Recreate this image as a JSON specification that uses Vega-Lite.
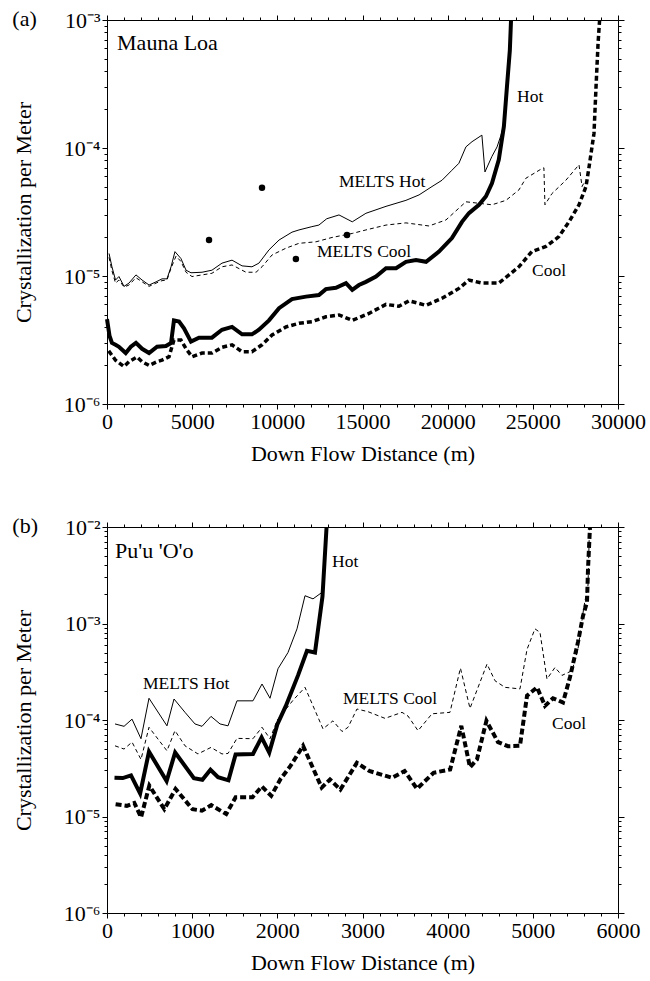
{
  "$schema": "https://vega.github.io/schema/vega-lite/v6.json",
  "background": "white",
  "padding": {"left": 12, "top": 8, "right": 4, "bottom": 4},
  "spacing": 51,
  "config": {
    "view": {"stroke": null},
    "font": "Liberation Serif",
    "axis": {
      "labelFont": "Liberation Serif", "labelFontSize": 22, "labelColor": "black",
      "titleFont": "Liberation Serif", "titleFontSize": 22, "titleFontWeight": "normal", "titleColor": "black",
      "domainColor": "black", "domainWidth": 1, "tickColor": "black", "tickWidth": 1,
      "grid": false, "labelFlush": false, "labelOverlap": false, "labelPadding": 2
    },
    "line": {"color": "black", "clip": true, "strokeCap": "butt"},
    "title": {"font": "Liberation Serif", "fontSize": 22, "fontWeight": "normal", "color": "black"}
  },
  "datasets": {
    "a_lines": [
      {"s":"Hot","d":0,"v":4.6e-6},{"s":"Hot","d":150,"v":3.4e-6},{"s":"Hot","d":290,"v":3.0e-6},{"s":"Hot","d":500,"v":2.9e-6},{"s":"Hot","d":700,"v":2.8e-6},{"s":"Hot","d":1100,"v":2.5e-6},{"s":"Hot","d":1400,"v":2.8e-6},{"s":"Hot","d":1700,"v":3.0e-6},{"s":"Hot","d":2060,"v":2.7e-6},{"s":"Hot","d":2470,"v":2.5e-6},{"s":"Hot","d":2940,"v":2.8e-6},{"s":"Hot","d":3460,"v":2.84e-6},{"s":"Hot","d":3760,"v":3.0e-6},{"s":"Hot","d":3930,"v":4.5e-6},{"s":"Hot","d":4230,"v":4.4e-6},{"s":"Hot","d":4520,"v":3.9e-6},{"s":"Hot","d":4930,"v":3.07e-6},{"s":"Hot","d":5400,"v":3.3e-6},{"s":"Hot","d":6160,"v":3.3e-6},{"s":"Hot","d":6750,"v":3.8e-6},{"s":"Hot","d":7340,"v":4.0e-6},{"s":"Hot","d":7930,"v":3.5e-6},{"s":"Hot","d":8510,"v":3.5e-6},{"s":"Hot","d":8920,"v":3.8e-6},{"s":"Hot","d":9510,"v":4.5e-6},{"s":"Hot","d":10100,"v":5.6e-6},{"s":"Hot","d":10860,"v":6.6e-6},{"s":"Hot","d":11680,"v":6.9e-6},{"s":"Hot","d":12440,"v":7.1e-6},{"s":"Hot","d":12850,"v":7.9e-6},{"s":"Hot","d":13440,"v":8.1e-6},{"s":"Hot","d":14030,"v":8.8e-6},{"s":"Hot","d":14400,"v":7.8e-6},{"s":"Hot","d":14790,"v":8.5e-6},{"s":"Hot","d":15200,"v":9.0e-6},{"s":"Hot","d":15790,"v":9.9e-6},{"s":"Hot","d":16380,"v":1.15e-5},{"s":"Hot","d":16970,"v":1.15e-5},{"s":"Hot","d":17550,"v":1.29e-5},{"s":"Hot","d":18140,"v":1.33e-5},{"s":"Hot","d":18730,"v":1.29e-5},{"s":"Hot","d":19490,"v":1.55e-5},{"s":"Hot","d":20250,"v":1.98e-5},{"s":"Hot","d":20840,"v":2.65e-5},{"s":"Hot","d":21250,"v":3.1e-5},{"s":"Hot","d":21840,"v":3.6e-5},{"s":"Hot","d":22250,"v":4.2e-5},{"s":"Hot","d":22600,"v":5.3e-5},{"s":"Hot","d":23000,"v":8.1e-5},{"s":"Hot","d":23300,"v":1.47e-4},{"s":"Hot","d":23480,"v":3.0e-4},{"s":"Hot","d":23650,"v":5.8e-4},{"s":"Hot","d":23720,"v":1.0e-3},
      {"s":"Cool","d":100,"v":2.6e-6},{"s":"Cool","d":500,"v":2.2e-6},{"s":"Cool","d":1000,"v":1.96e-6},{"s":"Cool","d":1290,"v":2.14e-6},{"s":"Cool","d":1760,"v":2.33e-6},{"s":"Cool","d":2060,"v":2.14e-6},{"s":"Cool","d":2470,"v":2.0e-6},{"s":"Cool","d":2940,"v":2.14e-6},{"s":"Cool","d":3230,"v":2.2e-6},{"s":"Cool","d":3640,"v":2.34e-6},{"s":"Cool","d":3930,"v":3.16e-6},{"s":"Cool","d":4340,"v":3.16e-6},{"s":"Cool","d":4640,"v":2.7e-6},{"s":"Cool","d":4990,"v":2.34e-6},{"s":"Cool","d":5580,"v":2.5e-6},{"s":"Cool","d":6160,"v":2.5e-6},{"s":"Cool","d":6750,"v":2.77e-6},{"s":"Cool","d":7340,"v":2.9e-6},{"s":"Cool","d":7930,"v":2.56e-6},{"s":"Cool","d":8510,"v":2.56e-6},{"s":"Cool","d":9100,"v":2.9e-6},{"s":"Cool","d":9690,"v":3.46e-6},{"s":"Cool","d":10510,"v":4.0e-6},{"s":"Cool","d":11270,"v":4.27e-6},{"s":"Cool","d":12030,"v":4.4e-6},{"s":"Cool","d":12850,"v":4.8e-6},{"s":"Cool","d":13620,"v":4.96e-6},{"s":"Cool","d":14400,"v":4.5e-6},{"s":"Cool","d":15380,"v":5.1e-6},{"s":"Cool","d":16380,"v":6.0e-6},{"s":"Cool","d":17140,"v":5.8e-6},{"s":"Cool","d":17730,"v":6.4e-6},{"s":"Cool","d":18730,"v":5.9e-6},{"s":"Cool","d":19670,"v":6.7e-6},{"s":"Cool","d":20660,"v":8.0e-6},{"s":"Cool","d":21250,"v":9.3e-6},{"s":"Cool","d":22010,"v":8.8e-6},{"s":"Cool","d":23000,"v":8.8e-6},{"s":"Cool","d":23600,"v":1.02e-5},{"s":"Cool","d":24180,"v":1.18e-5},{"s":"Cool","d":24940,"v":1.55e-5},{"s":"Cool","d":25770,"v":1.7e-5},{"s":"Cool","d":26530,"v":2.03e-5},{"s":"Cool","d":27120,"v":2.65e-5},{"s":"Cool","d":27710,"v":3.6e-5},{"s":"Cool","d":28120,"v":5.0e-5},{"s":"Cool","d":28300,"v":7.1e-5},{"s":"Cool","d":28590,"v":1.3e-4},{"s":"Cool","d":28710,"v":3.0e-4},{"s":"Cool","d":28830,"v":6.6e-4},{"s":"Cool","d":28920,"v":1.0e-3},
      {"s":"MELTS Hot","d":120,"v":1.5e-5},{"s":"MELTS Hot","d":290,"v":1.18e-5},{"s":"MELTS Hot","d":500,"v":9.3e-6},{"s":"MELTS Hot","d":700,"v":9.9e-6},{"s":"MELTS Hot","d":1000,"v":8.3e-6},{"s":"MELTS Hot","d":1290,"v":8.8e-6},{"s":"MELTS Hot","d":1700,"v":1.02e-5},{"s":"MELTS Hot","d":2060,"v":9.3e-6},{"s":"MELTS Hot","d":2470,"v":8.5e-6},{"s":"MELTS Hot","d":2880,"v":9.0e-6},{"s":"MELTS Hot","d":3230,"v":9.5e-6},{"s":"MELTS Hot","d":3520,"v":9.5e-6},{"s":"MELTS Hot","d":3760,"v":1.18e-5},{"s":"MELTS Hot","d":3990,"v":1.55e-5},{"s":"MELTS Hot","d":4340,"v":1.37e-5},{"s":"MELTS Hot","d":4640,"v":1.11e-5},{"s":"MELTS Hot","d":4930,"v":1.06e-5},{"s":"MELTS Hot","d":5580,"v":1.07e-5},{"s":"MELTS Hot","d":6160,"v":1.11e-5},{"s":"MELTS Hot","d":6750,"v":1.26e-5},{"s":"MELTS Hot","d":7340,"v":1.33e-5},{"s":"MELTS Hot","d":7930,"v":1.2e-5},{"s":"MELTS Hot","d":8510,"v":1.18e-5},{"s":"MELTS Hot","d":8920,"v":1.26e-5},{"s":"MELTS Hot","d":9510,"v":1.6e-5},{"s":"MELTS Hot","d":10100,"v":1.91e-5},{"s":"MELTS Hot","d":10860,"v":2.2e-5},{"s":"MELTS Hot","d":11270,"v":2.29e-5},{"s":"MELTS Hot","d":12030,"v":2.43e-5},{"s":"MELTS Hot","d":12440,"v":2.5e-5},{"s":"MELTS Hot","d":12900,"v":2.8e-5},{"s":"MELTS Hot","d":13620,"v":3.0e-5},{"s":"MELTS Hot","d":14400,"v":2.65e-5},{"s":"MELTS Hot","d":15200,"v":3.09e-5},{"s":"MELTS Hot","d":16380,"v":3.5e-5},{"s":"MELTS Hot","d":17550,"v":3.9e-5},{"s":"MELTS Hot","d":18320,"v":4.3e-5},{"s":"MELTS Hot","d":19080,"v":5.0e-5},{"s":"MELTS Hot","d":19670,"v":5.6e-5},{"s":"MELTS Hot","d":20250,"v":6.7e-5},{"s":"MELTS Hot","d":20660,"v":7.6e-5},{"s":"MELTS Hot","d":21070,"v":1.02e-4},{"s":"MELTS Hot","d":21430,"v":1.12e-4},{"s":"MELTS Hot","d":22010,"v":1.26e-4},{"s":"MELTS Hot","d":22190,"v":6.5e-5},{"s":"MELTS Hot","d":22600,"v":8.6e-5},{"s":"MELTS Hot","d":22900,"v":1.02e-4},{"s":"MELTS Hot","d":23130,"v":1.26e-4},{"s":"MELTS Hot","d":23250,"v":1.45e-4},
      {"s":"MELTS Cool","d":120,"v":1.4e-5},{"s":"MELTS Cool","d":290,"v":1.1e-5},{"s":"MELTS Cool","d":500,"v":8.8e-6},{"s":"MELTS Cool","d":700,"v":9.3e-6},{"s":"MELTS Cool","d":1000,"v":8.2e-6},{"s":"MELTS Cool","d":1290,"v":8.5e-6},{"s":"MELTS Cool","d":1700,"v":9.7e-6},{"s":"MELTS Cool","d":2060,"v":9.0e-6},{"s":"MELTS Cool","d":2470,"v":8.3e-6},{"s":"MELTS Cool","d":2880,"v":8.8e-6},{"s":"MELTS Cool","d":3230,"v":9.2e-6},{"s":"MELTS Cool","d":3520,"v":9.3e-6},{"s":"MELTS Cool","d":3760,"v":1.15e-5},{"s":"MELTS Cool","d":4050,"v":1.43e-5},{"s":"MELTS Cool","d":4340,"v":1.3e-5},{"s":"MELTS Cool","d":4640,"v":1.07e-5},{"s":"MELTS Cool","d":4990,"v":9.9e-6},{"s":"MELTS Cool","d":5580,"v":1.02e-5},{"s":"MELTS Cool","d":6160,"v":1.05e-5},{"s":"MELTS Cool","d":6750,"v":1.18e-5},{"s":"MELTS Cool","d":7340,"v":1.22e-5},{"s":"MELTS Cool","d":8160,"v":1.07e-5},{"s":"MELTS Cool","d":8750,"v":1.07e-5},{"s":"MELTS Cool","d":9100,"v":1.18e-5},{"s":"MELTS Cool","d":9690,"v":1.46e-5},{"s":"MELTS Cool","d":10510,"v":1.65e-5},{"s":"MELTS Cool","d":11270,"v":1.8e-5},{"s":"MELTS Cool","d":12270,"v":1.85e-5},{"s":"MELTS Cool","d":13210,"v":2.0e-5},{"s":"MELTS Cool","d":14400,"v":2.15e-5},{"s":"MELTS Cool","d":15200,"v":2.29e-5},{"s":"MELTS Cool","d":16380,"v":2.5e-5},{"s":"MELTS Cool","d":17550,"v":2.6e-5},{"s":"MELTS Cool","d":18900,"v":2.46e-5},{"s":"MELTS Cool","d":19900,"v":2.74e-5},{"s":"MELTS Cool","d":21070,"v":3.8e-5},{"s":"MELTS Cool","d":22600,"v":3.6e-5},{"s":"MELTS Cool","d":23420,"v":3.9e-5},{"s":"MELTS Cool","d":24180,"v":4.7e-5},{"s":"MELTS Cool","d":24590,"v":5.8e-5},{"s":"MELTS Cool","d":25530,"v":6.9e-5},{"s":"MELTS Cool","d":25650,"v":7.0e-5},{"s":"MELTS Cool","d":25710,"v":3.6e-5},{"s":"MELTS Cool","d":26120,"v":4.4e-5},{"s":"MELTS Cool","d":26940,"v":5.6e-5},{"s":"MELTS Cool","d":27710,"v":7.4e-5},{"s":"MELTS Cool","d":27890,"v":5.0e-5},{"s":"MELTS Cool","d":28050,"v":5.5e-5}
    ],
    "a_dots": [
      {"d":5990,"v":1.91e-5},{"d":9100,"v":4.9e-5},{"d":11090,"v":1.36e-5},{"d":14090,"v":2.09e-5}
    ],
    "a_labels": [
      {"d":24070,"v":2.5e-4,"label":"Hot"},
      {"d":13620,"v":5.4e-5,"label":"MELTS Hot"},
      {"d":12330,"v":1.54e-5,"label":"MELTS Cool"},
      {"d":24950,"v":1.09e-5,"label":"Cool"}
    ],
    "a_name": [{"d":590,"v":6.6e-4,"label":"Mauna Loa"}],
    "b_lines": [
      {"s":"Hot","d":88,"v":2.52e-5},{"s":"Hot","d":185,"v":2.5e-5},{"s":"Hot","d":282,"v":2.67e-5},{"s":"Hot","d":389,"v":1.73e-5},{"s":"Hot","d":493,"v":4.7e-5},{"s":"Hot","d":700,"v":2.33e-5},{"s":"Hot","d":800,"v":4.6e-5},{"s":"Hot","d":1020,"v":2.5e-5},{"s":"Hot","d":1120,"v":2.4e-5},{"s":"Hot","d":1215,"v":3.05e-5},{"s":"Hot","d":1304,"v":2.55e-5},{"s":"Hot","d":1426,"v":2.37e-5},{"s":"Hot","d":1510,"v":4.4e-5},{"s":"Hot","d":1714,"v":4.45e-5},{"s":"Hot","d":1815,"v":6.6e-5},{"s":"Hot","d":1905,"v":4.6e-5},{"s":"Hot","d":2000,"v":9.0e-5},{"s":"Hot","d":2100,"v":1.4e-4},{"s":"Hot","d":2243,"v":2.9e-4},{"s":"Hot","d":2348,"v":5.2e-4},{"s":"Hot","d":2442,"v":5.0e-4},{"s":"Hot","d":2530,"v":1.9e-3},{"s":"Hot","d":2578,"v":1.0e-2},
      {"s":"MELTS Hot","d":94,"v":9.1e-5},{"s":"MELTS Hot","d":200,"v":8.6e-5},{"s":"MELTS Hot","d":294,"v":1.02e-4},{"s":"MELTS Hot","d":399,"v":6.4e-5},{"s":"MELTS Hot","d":493,"v":1.68e-4},{"s":"MELTS Hot","d":704,"v":8.7e-5},{"s":"MELTS Hot","d":787,"v":1.65e-4},{"s":"MELTS Hot","d":916,"v":1.2e-4},{"s":"MELTS Hot","d":1033,"v":9.1e-5},{"s":"MELTS Hot","d":1116,"v":8.6e-5},{"s":"MELTS Hot","d":1221,"v":1.09e-4},{"s":"MELTS Hot","d":1327,"v":9.1e-5},{"s":"MELTS Hot","d":1421,"v":8.7e-5},{"s":"MELTS Hot","d":1526,"v":1.58e-4},{"s":"MELTS Hot","d":1714,"v":1.58e-4},{"s":"MELTS Hot","d":1820,"v":2.36e-4},{"s":"MELTS Hot","d":1914,"v":1.68e-4},{"s":"MELTS Hot","d":2008,"v":3.4e-4},{"s":"MELTS Hot","d":2125,"v":5.0e-4},{"s":"MELTS Hot","d":2231,"v":8.8e-4},{"s":"MELTS Hot","d":2325,"v":1.94e-3},{"s":"MELTS Hot","d":2419,"v":1.8e-3},{"s":"MELTS Hot","d":2524,"v":2.1e-3},
      {"s":"Cool","d":101,"v":1.34e-5},{"s":"Cool","d":233,"v":1.29e-5},{"s":"Cool","d":321,"v":1.38e-5},{"s":"Cool","d":400,"v":9.8e-6},{"s":"Cool","d":497,"v":2.09e-5},{"s":"Cool","d":673,"v":1.19e-5},{"s":"Cool","d":805,"v":1.93e-5},{"s":"Cool","d":1004,"v":1.19e-5},{"s":"Cool","d":1114,"v":1.15e-5},{"s":"Cool","d":1224,"v":1.31e-5},{"s":"Cool","d":1400,"v":1.06e-5},{"s":"Cool","d":1510,"v":1.58e-5},{"s":"Cool","d":1708,"v":1.58e-5},{"s":"Cool","d":1818,"v":2.05e-5},{"s":"Cool","d":1928,"v":1.64e-5},{"s":"Cool","d":2038,"v":2.45e-5},{"s":"Cool","d":2150,"v":3.3e-5},{"s":"Cool","d":2302,"v":5.4e-5},{"s":"Cool","d":2521,"v":1.99e-5},{"s":"Cool","d":2618,"v":2.42e-5},{"s":"Cool","d":2740,"v":1.9e-5},{"s":"Cool","d":2934,"v":3.6e-5},{"s":"Cool","d":3080,"v":2.96e-5},{"s":"Cool","d":3348,"v":2.52e-5},{"s":"Cool","d":3494,"v":2.96e-5},{"s":"Cool","d":3640,"v":1.94e-5},{"s":"Cool","d":3835,"v":2.84e-5},{"s":"Cool","d":4029,"v":3.07e-5},{"s":"Cool","d":4160,"v":8.7e-5},{"s":"Cool","d":4262,"v":3.24e-5},{"s":"Cool","d":4344,"v":3.9e-5},{"s":"Cool","d":4455,"v":9.8e-5},{"s":"Cool","d":4591,"v":5.9e-5},{"s":"Cool","d":4708,"v":5.35e-5},{"s":"Cool","d":4849,"v":5.4e-5},{"s":"Cool","d":4932,"v":1.79e-4},{"s":"Cool","d":5049,"v":2.18e-4},{"s":"Cool","d":5143,"v":1.4e-4},{"s":"Cool","d":5237,"v":1.68e-4},{"s":"Cool","d":5354,"v":1.52e-4},{"s":"Cool","d":5436,"v":2.77e-4},{"s":"Cool","d":5530,"v":6.4e-4},{"s":"Cool","d":5589,"v":1.2e-3},{"s":"Cool","d":5636,"v":1.66e-3},{"s":"Cool","d":5648,"v":3.7e-3},{"s":"Cool","d":5671,"v":1.0e-2},
      {"s":"MELTS Cool","d":94,"v":5.4e-5},{"s":"MELTS Cool","d":200,"v":5.0e-5},{"s":"MELTS Cool","d":294,"v":5.9e-5},{"s":"MELTS Cool","d":399,"v":3.9e-5},{"s":"MELTS Cool","d":493,"v":8.4e-5},{"s":"MELTS Cool","d":704,"v":4.8e-5},{"s":"MELTS Cool","d":798,"v":7.75e-5},{"s":"MELTS Cool","d":916,"v":5.4e-5},{"s":"MELTS Cool","d":1068,"v":4.45e-5},{"s":"MELTS Cool","d":1221,"v":5.2e-5},{"s":"MELTS Cool","d":1350,"v":4.45e-5},{"s":"MELTS Cool","d":1421,"v":4.5e-5},{"s":"MELTS Cool","d":1526,"v":6.45e-5},{"s":"MELTS Cool","d":1714,"v":6.4e-5},{"s":"MELTS Cool","d":1820,"v":8.4e-5},{"s":"MELTS Cool","d":1914,"v":6.4e-5},{"s":"MELTS Cool","d":2000,"v":1.0e-4},{"s":"MELTS Cool","d":2184,"v":1.6e-4},{"s":"MELTS Cool","d":2325,"v":2.18e-4},{"s":"MELTS Cool","d":2536,"v":8.1e-5},{"s":"MELTS Cool","d":2653,"v":9.8e-5},{"s":"MELTS Cool","d":2760,"v":7.6e-5},{"s":"MELTS Cool","d":2830,"v":8.4e-5},{"s":"MELTS Cool","d":2935,"v":1.3e-4},{"s":"MELTS Cool","d":3064,"v":1.22e-4},{"s":"MELTS Cool","d":3264,"v":1.04e-4},{"s":"MELTS Cool","d":3464,"v":1.2e-4},{"s":"MELTS Cool","d":3534,"v":1.1e-4},{"s":"MELTS Cool","d":3652,"v":7.75e-5},{"s":"MELTS Cool","d":3816,"v":1.16e-4},{"s":"MELTS Cool","d":4027,"v":1.2e-4},{"s":"MELTS Cool","d":4150,"v":3.45e-4},{"s":"MELTS Cool","d":4262,"v":1.32e-4},{"s":"MELTS Cool","d":4462,"v":3.8e-4},{"s":"MELTS Cool","d":4556,"v":2.55e-4},{"s":"MELTS Cool","d":4673,"v":2.18e-4},{"s":"MELTS Cool","d":4849,"v":2.1e-4},{"s":"MELTS Cool","d":4932,"v":5.4e-4},{"s":"MELTS Cool","d":5025,"v":8.8e-4},{"s":"MELTS Cool","d":5084,"v":8.1e-4},{"s":"MELTS Cool","d":5166,"v":2.66e-4},{"s":"MELTS Cool","d":5260,"v":3.5e-4},{"s":"MELTS Cool","d":5342,"v":2.9e-4},{"s":"MELTS Cool","d":5460,"v":3.24e-4},{"s":"MELTS Cool","d":5530,"v":5.4e-4},{"s":"MELTS Cool","d":5600,"v":1.5e-3},{"s":"MELTS Cool","d":5648,"v":2.5e-3},{"s":"MELTS Cool","d":5665,"v":1.0e-2}
    ],
    "b_labels": [
      {"d":2642,"v":4.3e-3,"label":"Hot"},
      {"d":423,"v":2.36e-4,"label":"MELTS Hot"},
      {"d":2771,"v":1.65e-4,"label":"MELTS Cool"},
      {"d":5225,"v":9.1e-5,"label":"Cool"}
    ],
    "b_name": [{"d":94,"v":5.6e-3,"label":"Pu'u 'O'o"}]
  },
  "vconcat": [
    {
      "width": 511, "height": 384,
      "title": {"text": "(a)", "anchor": "start", "frame": "bounds", "offset": 0, "dy": 22},
      "layer": [
        {
          "data": {"name": "a_lines"},
          "transform": [{"filter": "datum.s === 'Hot'"}],
          "mark": {"type": "line", "strokeWidth": 4},
          "encoding": {
            "x": {"field": "d", "type": "quantitative", "scale": {"domain": [0, 30000], "nice": false},
              "axis": {"orient": "bottom", "title": "Down Flow Distance (m)", "titlePadding": 11,
                "values": [0,1000,2000,3000,4000,5000,6000,7000,8000,9000,10000,11000,12000,13000,14000,15000,16000,17000,18000,19000,20000,21000,22000,23000,24000,25000,26000,27000,28000,29000,30000],
                "labelExpr": "datum.value % 5000 === 0 ? '' + datum.value : ''",
                "tickSize": {"condition": {"test": "datum.value % 5000 === 0", "value": 5}, "value": 3}}},
            "y": {"field": "v", "type": "quantitative", "scale": {"type": "log", "domain": [1e-6, 1e-3], "nice": false},
              "axis": {"orient": "left", "title": "Crystallization per Meter", "titlePadding": 28,
                "values": [1e-6,2e-6,3e-6,4e-6,5e-6,6e-6,7e-6,8e-6,9e-6,1e-5,2e-5,3e-5,4e-5,5e-5,6e-5,7e-5,8e-5,9e-5,1e-4,2e-4,3e-4,4e-4,5e-4,6e-4,7e-4,8e-4,9e-4,1e-3],
                "labelExpr": "abs(log(datum.value)/LN10 - round(log(datum.value)/LN10)) < 0.01 ? ['10⁻⁶','10⁻⁵','10⁻⁴','10⁻³','10⁻²'][round(log(datum.value)/LN10)+6] : ''",
                "tickSize": {"condition": {"test": "abs(log(datum.value)/LN10 - round(log(datum.value)/LN10)) < 0.01", "value": 5}, "value": 3}}}
          }
        },
        {
          "data": {"name": "a_lines"},
          "transform": [{"filter": "datum.s === 'Cool'"}],
          "mark": {"type": "line", "strokeWidth": 3.5, "strokeDash": [5, 3]},
          "encoding": {
            "x": {"field": "d", "type": "quantitative", "axis": null},
            "y": {"field": "v", "type": "quantitative", "axis": null}
          }
        },
        {
          "data": {"name": "a_lines"},
          "transform": [{"filter": "datum.s === 'MELTS Hot'"}],
          "mark": {"type": "line", "strokeWidth": 1},
          "encoding": {
            "x": {"field": "d", "type": "quantitative", "axis": null},
            "y": {"field": "v", "type": "quantitative", "axis": null}
          }
        },
        {
          "data": {"name": "a_lines"},
          "transform": [{"filter": "datum.s === 'MELTS Cool'"}],
          "mark": {"type": "line", "strokeWidth": 1, "strokeDash": [4, 3]},
          "encoding": {
            "x": {"field": "d", "type": "quantitative", "axis": null},
            "y": {"field": "v", "type": "quantitative", "axis": null}
          }
        },
        {
          "data": {"name": "a_lines"},
          "mark": {"type": "point", "opacity": 0},
          "encoding": {
            "x": {"field": "d", "type": "quantitative",
              "axis": {"orient": "top", "title": null, "labels": false,
                "values": [0,1000,2000,3000,4000,5000,6000,7000,8000,9000,10000,11000,12000,13000,14000,15000,16000,17000,18000,19000,20000,21000,22000,23000,24000,25000,26000,27000,28000,29000,30000],
                "tickSize": {"condition": {"test": "datum.value % 5000 === 0", "value": 5}, "value": 3}}},
            "y": {"field": "v", "type": "quantitative",
              "axis": {"orient": "right", "title": null, "labels": false,
                "values": [1e-6,2e-6,3e-6,4e-6,5e-6,6e-6,7e-6,8e-6,9e-6,1e-5,2e-5,3e-5,4e-5,5e-5,6e-5,7e-5,8e-5,9e-5,1e-4,2e-4,3e-4,4e-4,5e-4,6e-4,7e-4,8e-4,9e-4,1e-3],
                "tickSize": {"condition": {"test": "abs(log(datum.value)/LN10 - round(log(datum.value)/LN10)) < 0.01", "value": 6}, "value": 3}}}
          }
        },
        {
          "data": {"name": "a_dots"},
          "mark": {"type": "circle", "color": "black", "opacity": 1, "size": 42},
          "encoding": {
            "x": {"field": "d", "type": "quantitative", "axis": null},
            "y": {"field": "v", "type": "quantitative", "axis": null}
          }
        },
        {
          "data": {"name": "a_labels"},
          "mark": {"type": "text", "align": "left", "baseline": "middle", "fontSize": 17.5, "font": "Liberation Serif", "color": "black"},
          "encoding": {
            "x": {"field": "d", "type": "quantitative", "axis": null},
            "y": {"field": "v", "type": "quantitative", "axis": null},
            "text": {"field": "label"}
          }
        },
        {
          "data": {"name": "a_name"},
          "mark": {"type": "text", "align": "left", "baseline": "middle", "fontSize": 22, "font": "Liberation Serif", "color": "black"},
          "encoding": {
            "x": {"field": "d", "type": "quantitative", "axis": null},
            "y": {"field": "v", "type": "quantitative", "axis": null},
            "text": {"field": "label"}
          }
        }
      ],
      "resolve": {"axis": {"x": "independent", "y": "independent"}}
    },
    {
      "width": 511, "height": 386,
      "title": {"text": "(b)", "anchor": "start", "frame": "bounds", "offset": 0, "dy": 22},
      "layer": [
        {
          "data": {"name": "b_lines"},
          "transform": [{"filter": "datum.s === 'Hot'"}],
          "mark": {"type": "line", "strokeWidth": 4},
          "encoding": {
            "x": {"field": "d", "type": "quantitative", "scale": {"domain": [0, 6000], "nice": false},
              "axis": {"orient": "bottom", "title": "Down Flow Distance (m)", "titlePadding": 11,
                "values": [0,200,400,600,800,1000,1200,1400,1600,1800,2000,2200,2400,2600,2800,3000,3200,3400,3600,3800,4000,4200,4400,4600,4800,5000,5200,5400,5600,5800,6000],
                "labelExpr": "datum.value % 1000 === 0 ? '' + datum.value : ''",
                "tickSize": {"condition": {"test": "datum.value % 1000 === 0", "value": 5}, "value": 3}}},
            "y": {"field": "v", "type": "quantitative", "scale": {"type": "log", "domain": [1e-6, 1e-2], "nice": false},
              "axis": {"orient": "left", "title": "Crystallization per Meter", "titlePadding": 28,
                "values": [1e-6,2e-6,3e-6,4e-6,5e-6,6e-6,7e-6,8e-6,9e-6,1e-5,2e-5,3e-5,4e-5,5e-5,6e-5,7e-5,8e-5,9e-5,1e-4,2e-4,3e-4,4e-4,5e-4,6e-4,7e-4,8e-4,9e-4,1e-3,2e-3,3e-3,4e-3,5e-3,6e-3,7e-3,8e-3,9e-3,1e-2],
                "labelExpr": "abs(log(datum.value)/LN10 - round(log(datum.value)/LN10)) < 0.01 ? ['10⁻⁶','10⁻⁵','10⁻⁴','10⁻³','10⁻²'][round(log(datum.value)/LN10)+6] : ''",
                "tickSize": {"condition": {"test": "abs(log(datum.value)/LN10 - round(log(datum.value)/LN10)) < 0.01", "value": 5}, "value": 3}}}
          }
        },
        {
          "data": {"name": "b_lines"},
          "transform": [{"filter": "datum.s === 'Cool'"}],
          "mark": {"type": "line", "strokeWidth": 4, "strokeDash": [6, 3]},
          "encoding": {
            "x": {"field": "d", "type": "quantitative", "axis": null},
            "y": {"field": "v", "type": "quantitative", "axis": null}
          }
        },
        {
          "data": {"name": "b_lines"},
          "transform": [{"filter": "datum.s === 'MELTS Hot'"}],
          "mark": {"type": "line", "strokeWidth": 1},
          "encoding": {
            "x": {"field": "d", "type": "quantitative", "axis": null},
            "y": {"field": "v", "type": "quantitative", "axis": null}
          }
        },
        {
          "data": {"name": "b_lines"},
          "transform": [{"filter": "datum.s === 'MELTS Cool'"}],
          "mark": {"type": "line", "strokeWidth": 1, "strokeDash": [4, 3]},
          "encoding": {
            "x": {"field": "d", "type": "quantitative", "axis": null},
            "y": {"field": "v", "type": "quantitative", "axis": null}
          }
        },
        {
          "data": {"name": "b_lines"},
          "mark": {"type": "point", "opacity": 0},
          "encoding": {
            "x": {"field": "d", "type": "quantitative",
              "axis": {"orient": "top", "title": null, "labels": false,
                "values": [0,200,400,600,800,1000,1200,1400,1600,1800,2000,2200,2400,2600,2800,3000,3200,3400,3600,3800,4000,4200,4400,4600,4800,5000,5200,5400,5600,5800,6000],
                "tickSize": {"condition": {"test": "datum.value % 1000 === 0", "value": 5}, "value": 3}}},
            "y": {"field": "v", "type": "quantitative",
              "axis": {"orient": "right", "title": null, "labels": false,
                "values": [1e-6,2e-6,3e-6,4e-6,5e-6,6e-6,7e-6,8e-6,9e-6,1e-5,2e-5,3e-5,4e-5,5e-5,6e-5,7e-5,8e-5,9e-5,1e-4,2e-4,3e-4,4e-4,5e-4,6e-4,7e-4,8e-4,9e-4,1e-3,2e-3,3e-3,4e-3,5e-3,6e-3,7e-3,8e-3,9e-3,1e-2],
                "tickSize": {"condition": {"test": "abs(log(datum.value)/LN10 - round(log(datum.value)/LN10)) < 0.01", "value": 6}, "value": 3}}}
          }
        },
        {
          "data": {"name": "b_labels"},
          "mark": {"type": "text", "align": "left", "baseline": "middle", "fontSize": 17.5, "font": "Liberation Serif", "color": "black"},
          "encoding": {
            "x": {"field": "d", "type": "quantitative", "axis": null},
            "y": {"field": "v", "type": "quantitative", "axis": null},
            "text": {"field": "label"}
          }
        },
        {
          "data": {"name": "b_name"},
          "mark": {"type": "text", "align": "left", "baseline": "middle", "fontSize": 22, "font": "Liberation Serif", "color": "black"},
          "encoding": {
            "x": {"field": "d", "type": "quantitative", "axis": null},
            "y": {"field": "v", "type": "quantitative", "axis": null},
            "text": {"field": "label"}
          }
        }
      ],
      "resolve": {"axis": {"x": "independent", "y": "independent"}}
    }
  ]
}
